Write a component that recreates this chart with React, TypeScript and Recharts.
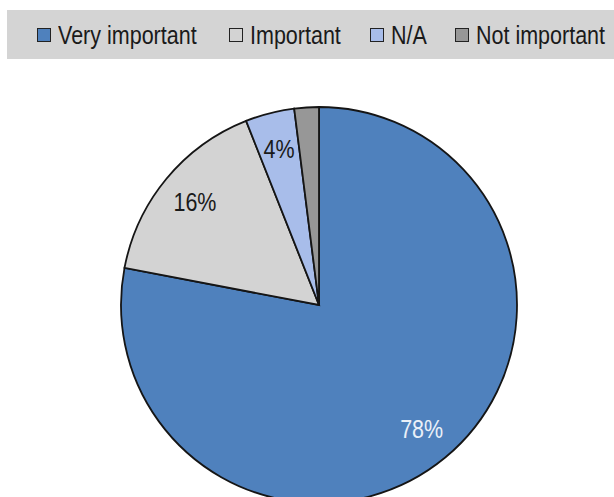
import React from 'react';
import { PieChart, Pie, Cell, Legend } from 'recharts';

const categories = ['Very important', 'Important', 'N/A', 'Not important'];
const values = [78, 16, 4, 2];
const colors = ['#4F81BD', '#D3D3D3', '#A8BDEA', '#979797'];
const labelTexts = ['78%', '16%', '4%', ''];
const labelColors = ['#EAF0F8', '#1A1A1A', '#1A1A1A', '#1A1A1A'];

const data = categories.map((name, i) => ({ name, value: values[i], label: labelTexts[i] }));

const FONT = '"Liberation Sans", Arial, sans-serif';
const NARROW = 0.86;
const RAD = Math.PI / 180;
// legend item left edges (page px)
const LEGEND_X = [37, 229, 370, 455];

const renderLabel = (props: any) => {
  const { cx, cy, midAngle, index } = props;
  const r = 161;
  const x = cx + r * Math.cos(-midAngle * RAD);
  const y = cy + r * Math.sin(-midAngle * RAD);
  const t = labelTexts[index];
  if (!t) return null;
  return (
    <text x={0} y={0} transform={`translate(${x},${y}) scale(${NARROW},1)`} fill={labelColors[index]}
      textAnchor="middle" dominantBaseline="central"
      style={{ fontFamily: FONT, fontSize: 25 }}>
      {t}
    </text>
  );
};

const LegendContent = () => (
  <div style={{
    background: '#D4D4D4', width: 607, height: 49, position: 'relative',
    fontFamily: FONT, fontSize: 25, color: '#1A1A1A',
  }}>
    {categories.map((c, i) => (
      <div key={c} style={{ position: 'absolute', left: LEGEND_X[i] - 7, top: 0, height: 49 }}>
        <span style={{
          position: 'absolute', left: 0, top: 18, width: 12, height: 12, background: colors[i],
          border: '1.5px solid #222',
        }} />
        <span style={{
          position: 'absolute', left: 21, top: 11, whiteSpace: 'nowrap', lineHeight: '28px',
          transform: `scaleX(${NARROW})`, transformOrigin: 'left center',
        }}>{c}</span>
      </div>
    ))}
  </div>
);

export default function App() {
  return (
    <div style={{ width: 614, height: 497, position: 'relative', overflow: 'hidden' }}>
      <style>{`body{margin:0;background:#fff}`}</style>
      <PieChart width={614} height={497} margin={{ top: 0, right: 0, bottom: 0, left: 0 }}>
        <Pie
          data={data}
          dataKey="value"
          nameKey="name"
          cx={319}
          cy={305}
          outerRadius={198}
          startAngle={90}
          endAngle={-270}
          stroke="#151515"
          strokeWidth={1.8}
          label={renderLabel}
          labelLine={false}
          isAnimationActive={false}
        >
          {data.map((d, i) => (
            <Cell key={d.name} fill={colors[i]} />
          ))}
        </Pie>
        <Legend
          layout="horizontal"
          verticalAlign="middle"
          align="center"
          content={<LegendContent />}
          wrapperStyle={{ position: 'absolute', top: 10, left: 7, width: 607, height: 49 }}
        />
      </PieChart>
    </div>
  );
}
